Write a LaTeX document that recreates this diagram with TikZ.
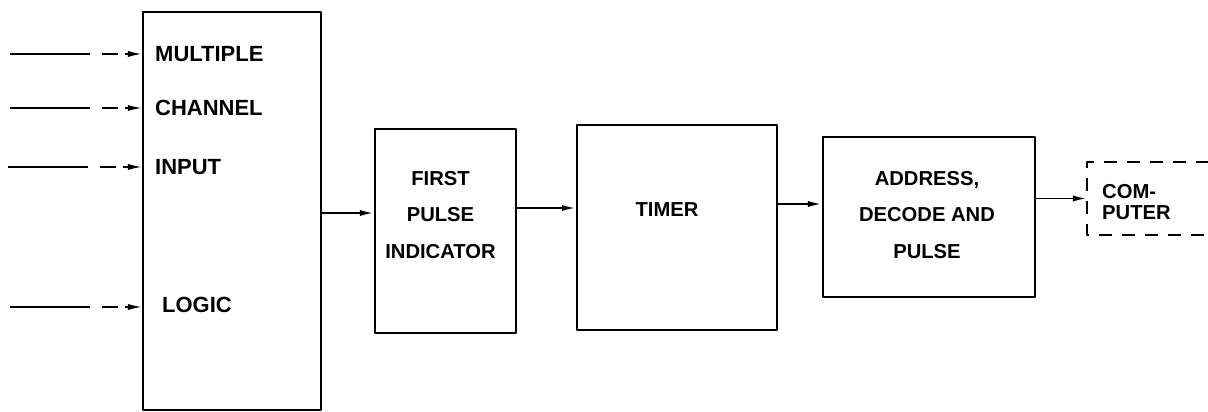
\documentclass[tikz,border=0pt]{standalone}
\usepackage{fontspec}
\setmainfont{Liberation Sans}
\usetikzlibrary{arrows.meta}

\tikzset{
  block/.style={draw,line width=1.2pt},
  flow/.style={line width=1.1pt,-{Latex[length=8pt,width=3.5pt]}},
  feed/.style={line width=0.9pt,-{Latex[length=8pt,width=3.5pt]},
    dash pattern=on 1.6cm off 0.24cm on 0.32cm off 0.14cm on 1cm},
  caption/.style={font=\fontsize{11.5}{21}\selectfont\bfseries,align=center},
  openbox/.style={line width=1.1pt,dash pattern=on 0.26cm off 0.2cm}
}

\begin{document}
\begin{tikzpicture}[line join=round]
\useasboundingbox (0,0) rectangle (24.16,8.24);
\path
    (4.64,4.02) node [block,minimum width=3.56cm,minimum height=7.96cm] (inputs) {}
    (8.91,3.62) node [block,minimum width=2.82cm,minimum height=4.08cm] (first) {}
    (13.54,3.69) node [block,minimum width=4cm,minimum height=4.1cm] (timer) {}
    (18.58,3.90) node [block,minimum width=4.24cm,minimum height=3.2cm] (address) {}
    (21.74,4.27) node [anchor=west,minimum width=2.42cm,minimum height=1.46cm] (computer) {};
\draw
    [openbox]
    (computer.north east) -- (computer.north west) --
    (computer.south west) -- (computer.south east);

% texts in the blocks
\path
    [caption]
    (first.center) +(-0.1,0.32) node (firsttext) {FIRST\\PULSE\\INDICATOR}
    (timer.center) +(-0.2,0.35) node (timertext) {TIMER}
    (address.center) +(-0.04,0.04) node (addresstext) {ADDRESS,\\DECODE AND\\PULSE}
    (computer.west) +(0.18,-0.08) node [anchor=west,align=left,
	font=\fontsize{11.5}{12}\selectfont\bfseries] (computertext) {COM-\\PUTER};
\path
    [anchor=west,font=\fontsize{12.5}{13}\selectfont\bfseries]
    (2.98,7.16) node (multiple) {MULTIPLE}
    (2.98,6.08) node (channel) {CHANNEL}
    (2.98,4.90) node (input) {INPUT}
    (3.12,2.14) node (logic) {LOGIC};

% inputs on the left
\path
    (0.20,7.16) coordinate (in1)
    (0.20,6.08) coordinate (in2)
    (0.16,4.90) coordinate (in3)
    (0.20,2.10) coordinate (in4);
\draw [feed] (in1) -- (inputs.west |- in1);
\draw [feed] (in2) -- (inputs.west |- in2);
\draw [feed] (in3) -- (inputs.west |- in3);
\draw [feed] (in4) -- (inputs.west |- in4);

% signal flow
\path
    (0,3.98) coordinate (f1)
    (0,4.08) coordinate (f2)
    (0,4.16) coordinate (f3);
\draw [flow] (inputs.east |- f1) -- (first.west |- f1);
\draw [flow] (first.east |- f2) -- (timer.west |- f2);
\draw [flow] (timer.east |- f3) -- (address.west |- f3);
\draw [flow] (address.east |- computer.west) -- (computer.west);
\end{tikzpicture}
\end{document}
